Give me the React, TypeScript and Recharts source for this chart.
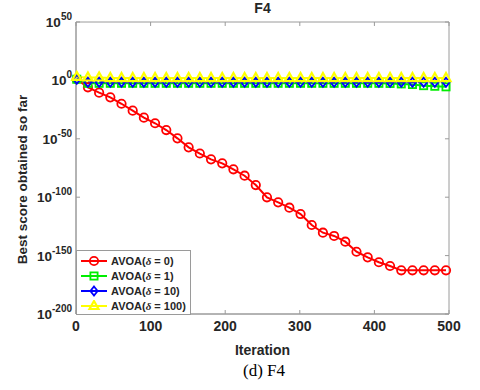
import React from "react";
import {
  LineChart,
  Line,
  XAxis,
  YAxis,
  Legend,
  ReferenceArea,
  ReferenceLine,
} from "recharts";

// iteration at each marker (MATLAB style: every 15th point)
const iterations = [
  1, 16, 31, 46, 61, 76, 91, 106, 121, 136, 151, 166, 181, 196, 211, 226, 241,
  256, 271, 286, 301, 316, 331, 346, 361, 376, 391, 406, 421, 436, 451, 466,
  481, 496,
];

// log10(best score)
const delta0 = [
  1, -5.9, -10.5, -14.5, -20, -25.9, -31.9, -36.7, -42.5, -49.6, -57.3, -62.6,
  -67.6, -71, -76.1, -81.6, -89.6, -100.1, -104.4, -109, -114.4, -123.8,
  -130.4, -133.2, -138.1, -146.7, -151.5, -155.7, -158.9, -162.6, -162.6,
  -162.6, -162.6, -162.6,
];
const delta1 = [
  1, -2.5, -2.5, -2.5, -2.5, -2.5, -2.5, -2.5, -2.5, -2.5, -2.5, -2.5, -2.5,
  -2.5, -2.5, -2.5, -2.5, -2.5, -2.5, -2.5, -2.5, -2.5, -2.5, -2.5, -2.5, -2.5,
  -2.5, -2.5, -2.6, -3, -3.5, -4.5, -5, -5.5,
];
const delta10 = [
  1, -1.6, -1.6, -1.6, -1.6, -1.6, -1.6, -1.6, -1.6, -1.6, -1.6, -1.6, -1.6,
  -1.6, -1.6, -1.6, -1.6, -1.6, -1.6, -1.6, -1.6, -1.6, -1.6, -1.6, -1.6, -1.6,
  -1.6, -1.6, -1.6, -1.6, -1.6, -1.6, -1.6, -1.6,
];
const delta100 = [
  3, 2.5, 2.5, 2, 2, 2, 2, 2, 2, 2, 2, 2, 2, 2, 2, 2, 2, 2, 2, 2, 2, 2, 2, 2, 2,
  2, 2, 2, 2, 2, 2, 2, 2, 2,
];

const xTicks = [0, 100, 200, 300, 400, 500];
const yTicks = [-200, -150, -100, -50, 0, 50];
const legendLabels = ["0", "1", "10", "100"];

const data = iterations.map((it, i) => ({
  it,
  d0: delta0[i],
  d1: delta1[i],
  d10: delta10[i],
  d100: delta100[i],
}));

const AXIS = "#9a9a9a";
const INK = "#262626";
const FONT = "'Liberation Sans', Arial, sans-serif";

type Shape = "circle" | "square" | "diamond" | "triangle";

function Marker({ cx, cy, shape, color }: { cx: number; cy: number; shape: Shape; color: string }) {
  const common = { fill: "none", stroke: color, strokeWidth: 1.8 };
  if (shape === "circle") return <circle cx={cx} cy={cy} r={4.2} {...common} />;
  if (shape === "square") return <rect x={cx - 3.6} y={cy - 3.6} width={7.2} height={7.2} {...common} />;
  if (shape === "diamond")
    return <polygon points={`${cx},${cy - 4.5} ${cx + 3.6},${cy} ${cx},${cy + 4.5} ${cx - 3.6},${cy}`} {...common} />;
  return <polygon points={`${cx},${cy - 5} ${cx + 4.5},${cy + 3} ${cx - 4.5},${cy + 3}`} {...common} strokeWidth={2.2} />;
}

const series: { key: string; color: string; shape: Shape; dash?: string }[] = [
  { key: "d0", color: "#ff0000", shape: "circle" },
  { key: "d1", color: "#00ee00", shape: "square" },
  { key: "d10", color: "#0000ff", shape: "diamond", dash: "6 2 1.5 2" },
  { key: "d100", color: "#ffff00", shape: "triangle" },
];

function YTick(props: any) {
  const { x, y, payload } = props;
  return (
    <text x={x} y={y + 5} textAnchor="end" fill={INK} fontFamily={FONT} fontWeight="bold" fontSize={13.5}>
      10
      <tspan dy={-7} fontSize={10}>
        {payload.value}
      </tspan>
    </text>
  );
}

function XTick(props: any) {
  const { x, y, payload } = props;
  return (
    <text x={x} y={y + 11} textAnchor="middle" fill={INK} fontFamily={FONT} fontWeight="bold" fontSize={14}>
      {payload.value}
    </text>
  );
}

function LegendBox() {
  return (
    <div
      style={{
        border: `1px solid ${AXIS}`,
        background: "#fff",
        padding: "2px 4px 1px 3px",
        fontFamily: FONT,
        fontWeight: "bold",
        fontSize: 11,
        color: INK,
        width: 106,
      }}
    >
      {series.map((s, i) => (
        <div key={s.key} style={{ display: "flex", alignItems: "center", height: 15 }}>
          <svg width={28} height={12} style={{ marginRight: 3 }}>
            <line x1={1} y1={6} x2={27} y2={6} stroke={s.color} strokeWidth={2} />
            <Marker cx={14} cy={6} shape={s.shape} color={s.color} />
          </svg>
          <span>
            AVOA(<i style={{ fontFamily: "'Liberation Serif', serif" }}>δ</i> = {legendLabels[i]})
          </span>
        </div>
      ))}
    </div>
  );
}

export default function App() {
  const tx = 5.4; // inward tick length in iterations
  const ty = 3.4; // inward tick length in decades
  return (
    <div style={{ position: "absolute", left: 0, top: 0, width: 480, height: 390, background: "#fff" }}>
      <LineChart width={480} height={390} data={data} margin={{ top: 22, right: 31, bottom: 46, left: 16 }}>
        <ReferenceArea x1={0} x2={500} y1={-200} y2={50} fill="none" stroke={AXIS} strokeWidth={1} />
        {xTicks.map((t) => (
          <ReferenceLine key={"xb" + t} segment={[{ x: t, y: -200 }, { x: t, y: -200 + ty }]} stroke={AXIS} />
        ))}
        {xTicks.map((t) => (
          <ReferenceLine key={"xt" + t} segment={[{ x: t, y: 50 }, { x: t, y: 50 - ty }]} stroke={AXIS} />
        ))}
        {yTicks.map((t) => (
          <ReferenceLine key={"yl" + t} segment={[{ x: 0, y: t }, { x: tx, y: t }]} stroke={AXIS} />
        ))}
        {yTicks.map((t) => (
          <ReferenceLine key={"yr" + t} segment={[{ x: 500, y: t }, { x: 500 - tx, y: t }]} stroke={AXIS} />
        ))}
        <XAxis
          dataKey="it"
          type="number"
          domain={[0, 500]}
          ticks={xTicks}
          height={30}
          tickLine={false}
          tickSize={0}
          tickMargin={6}
          axisLine={{ stroke: AXIS }}
          tick={<XTick />}
        />
        <YAxis
          type="number"
          domain={[-200, 50]}
          ticks={yTicks}
          width={60}
          tickLine={false}
          tickSize={0}
          tickMargin={4}
          axisLine={{ stroke: AXIS }}
          tick={<YTick />}
        />
        {series.map((s) => (
          <Line
            key={s.key}
            dataKey={s.key}
            type="linear"
            stroke={s.color}
            strokeWidth={2}
            strokeDasharray={s.dash}
            isAnimationActive={false}
            dot={(p: any) => <Marker key={s.key + p.index} cx={p.cx} cy={p.cy} shape={s.shape} color={s.color} />}
            activeDot={false}
          />
        ))}
        <Legend
          layout="vertical"
          align="center"
          verticalAlign="middle"
          content={<LegendBox />}
          wrapperStyle={{ left: 76, top: 250, width: 116 }}
        />
      </LineChart>
      <div
        style={{
          position: "absolute", left: 0, width: 525, top: 0, textAlign: "center",
          fontFamily: FONT, fontWeight: "bold", fontSize: 14, color: INK,
        }}
      >
        F4
      </div>
      <div
        style={{
          position: "absolute", left: 0, width: 525, top: 342, textAlign: "center",
          fontFamily: FONT, fontWeight: "bold", fontSize: 14, color: INK,
        }}
      >
        Iteration
      </div>
      <div
        style={{
          position: "absolute", left: 0, width: 528, top: 361, textAlign: "center",
          fontFamily: "'Liberation Serif', 'Times New Roman', serif", fontSize: 17, color: "#000",
        }}
      >
        (d) F4
      </div>
      <div
        style={{
          position: "absolute", left: 22, top: 181, width: 0, height: 0,
        }}
      >
        <div
          style={{
            position: "absolute", left: -120, top: -9, width: 240, textAlign: "center",
            transform: "rotate(-90deg)", fontFamily: FONT, fontWeight: "bold", fontSize: 13.5, color: INK,
            whiteSpace: "nowrap",
          }}
        >
          Best score obtained so far
        </div>
      </div>
    </div>
  );
}
